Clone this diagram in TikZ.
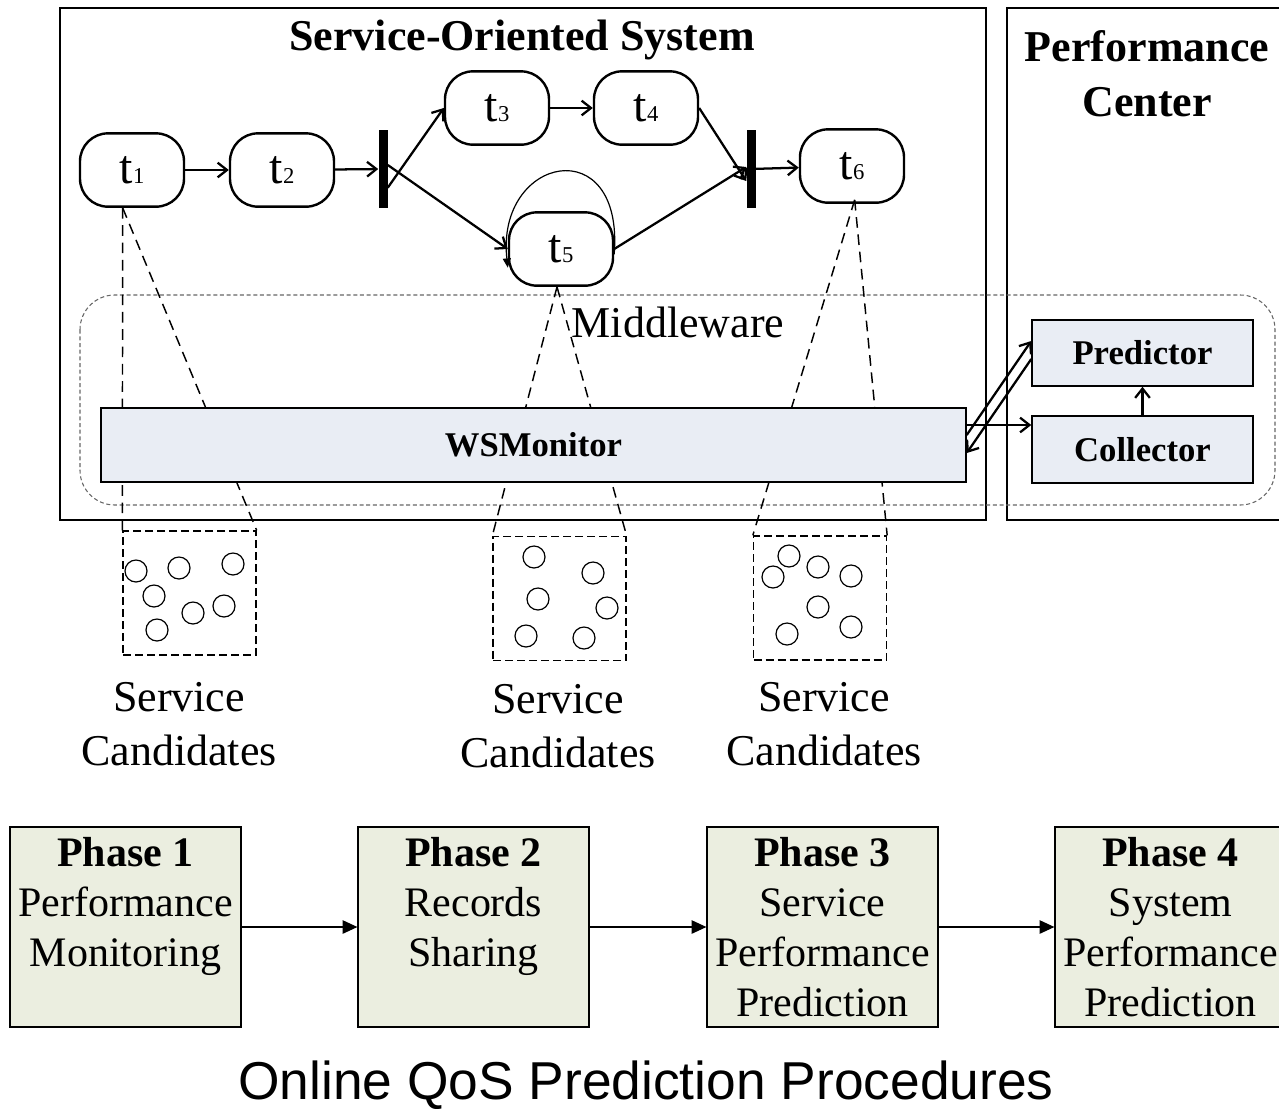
\documentclass[tikz,border=0pt]{standalone}
\usepackage{fontspec}
\setmainfont{Liberation Serif}
\newfontfamily\captionfont{Liberation Sans}
\usetikzlibrary{arrows.meta,positioning}

\definecolor{modfill}{RGB}{233,237,244}
\definecolor{phasefill}{RGB}{235,238,224}

\newcommand{\tname}[1]{t{\fontsize{17}{17}\selectfont #1}}

\tikzset{
  frame/.style={line width=1.4pt},
  mware/.style={draw=black!60, line width=0.8pt, dash pattern=on 3pt off 2pt, rounded corners=26pt},
  task/.style={draw, line width=1.8pt, rounded corners=21pt, minimum width=78pt, minimum height=55pt, inner sep=0pt, font=\fontsize{36}{36}\selectfont},
  bar/.style={fill=black, minimum width=6.75pt, minimum height=58.5pt, inner sep=0pt},
  flow/.style={-{Straight Barb[length=7pt,width=11pt]}, line width=1.7pt},
  selfloop/.style={-{Triangle[length=7pt,width=6pt]}, line width=0.9pt},
  cone/.style={line width=1.1pt, dash pattern=on 8pt off 5pt},
  module/.style={draw, fill=modfill, line width=1.1pt, inner sep=0pt, font=\fontsize{26}{26}\selectfont\bfseries},
  pool/.style={draw, line width=1pt, dash pattern=on 6pt off 3pt, minimum width=99.75pt, minimum height=93pt, inner sep=0pt},
  cand/.style={circle, draw, line width=0.9pt, minimum size=16.5pt, inner sep=0pt},
  bigfont/.style={font=\fontsize{33}{40}\selectfont, align=center, inner sep=0pt},
  phase/.style={draw, fill=phasefill, line width=0.9pt, minimum width=173.25pt, minimum height=150pt, inner sep=0pt, align=center, font=\fontsize{31.5}{37.5}\selectfont},
  phasearrow/.style={-{Triangle[length=11pt,width=10pt]}, line width=0.9pt}
}

\begin{document}
\begin{tikzpicture}[x=0.75pt,y=0.75pt,yscale=-1,xscale=1]
    \useasboundingbox (0,0) rectangle (1279,1108);
    \clip (0,0) rectangle (1279,1108);

    %Shape: Rectangle [service-oriented system]
    \draw [frame] (60,8) rectangle (986,520);
    %Shape: Rectangle [performance center]
    \draw [frame] (1007,8) rectangle (1300,520);
    %Shape: Rounded Rectangle [middleware]
    \draw [mware] (80,295) rectangle (1275,505);

    % Text Node
    \node [bigfont] (sostitle) at (522,40) {\textbf{Service-Oriented System}};
    % Text Node
    \node [bigfont, font=\fontsize{33}{41}\selectfont\bfseries] (pctitle) at (1147,74) {Performance\\Center};
    % Text Node
    \node [bigfont] (mwlabel) at (678,322) {Middleware};

    %Tasks
    \node [task] (t1) at (132,170) {\tname{1}};
    \node [task] (t2) at (282,170) {\tname{2}};
    \node [bar] (bar1) at (383,169) {};
    \node [task] (t3) at (497,108) {\tname{3}};
    \node [task] (t4) at (646,108) {\tname{4}};
    \node [task] (t5) at (561,249) {\tname{5}};
    \node [bar] (bar2) at (751,169) {};
    \node [task] (t6) at (852,166) {\tname{6}};

    %Flow arrows
    \draw [flow] (t1) -- (t2);
    \draw [flow] (t2) -- (bar1);
    \draw [flow] ([yshift=14pt]bar1.east) -- (t3.west);
    \draw [flow] ([yshift=-3pt]bar1.east) -- (t5.west);
    \draw [flow] (t3) -- (t4);
    \draw [flow] (t4.east) -- ([yshift=9pt]bar2.west);
    \draw [flow] (t5.east) -- ([yshift=-1.5pt]bar2.west);
    \draw [flow] (bar2) -- (t6);
    \draw [selfloop] ([yshift=4pt]t5.east) .. controls +(10,-125) and +(-12,-112) .. ([yshift=14pt]t5.west);

    %Service candidates
    \node [pool] (pool1) at (189.5,593) {};
    \node [pool] (pool2) at (559.5,598.5) {};
    \node [pool] (pool3) at (820,598) {};
    \foreach \x/\y [count=\i] in {136/571,179/568,233/564,154/596,193/613,224/606,157/630}
      \node [cand] (ca\i) at (\x,\y) {};
    \foreach \x/\y [count=\i] in {534/557,593/573,538/599,607/608,526/636,584/638}
      \node [cand] (cb\i) at (\x,\y) {};
    \foreach \x/\y [count=\i] in {789/556,773/577,818/567,851/576,818/607,787/634,851/627}
      \node [cand] (cc\i) at (\x,\y) {};

    % Text Node
    \node [bigfont] (lab1) at (179,724) {Service\\Candidates};
    % Text Node
    \node [bigfont] (lab2) at (558,726) {Service\\Candidates};
    % Text Node
    \node [bigfont] (lab3) at (824,724) {Service\\Candidates};

    %Dashed cones
    \draw [cone] ([xshift=-7pt]t1.south) -- (pool1.north west);
    \draw [cone] ([xshift=-7pt]t1.south) -- (pool1.north east);
    \draw [cone] ([xshift=-3pt]t5.south) -- (pool2.north west);
    \draw [cone] ([xshift=-3pt]t5.south) -- (pool2.north east);
    \draw [cone] ([xshift=2pt,yshift=-3pt]t6.south) -- (pool3.north west);
    \draw [cone] ([xshift=2pt,yshift=-3pt]t6.south) -- (pool3.north east);

    %Monitor and center modules
    \node [module, minimum width=648.75pt, minimum height=55.5pt] (wsm) at (533.5,445) {WSMonitor};
    \node [module, minimum width=165.75pt, minimum height=49.5pt] (pred) at (1142.5,353) {Predictor};
    \node [module, minimum width=165.75pt, minimum height=50pt] (coll) at (1142.5,449.5) {Collector};

    \coordinate (wsmout) at ([yshift=-15pt]wsm.east);
    \draw [flow] (coll) -- (pred);
    \draw [flow] (wsmout) -- (wsmout -| coll.west);
    \draw [flow] ([yshift=4.5pt]pred.west) -- ([yshift=6pt]wsm.east);
    \draw [flow] ([yshift=-7.5pt]wsm.east) -- ([yshift=-9pt]pred.west);

    %Phases
    \node [phase] (p1) at (125.5,927) {\textbf{Phase 1}\\Performance\\Monitoring\\\phantom{Prediction}};
    \node [phase] (p2) at (473.5,927) {\textbf{Phase 2}\\Records\\Sharing\\\phantom{Prediction}};
    \node [phase] (p3) at (822.5,927) {\textbf{Phase 3}\\Service\\Performance\\Prediction};
    \node [phase] (p4) at (1170.5,927) {\textbf{Phase 4}\\System\\Performance\\Prediction};
    \draw [phasearrow] (p1) -- (p2);
    \draw [phasearrow] (p2) -- (p3);
    \draw [phasearrow] (p3) -- (p4);

    % Text Node
    \node [inner sep=0pt, font=\captionfont\fontsize{40}{40}\selectfont] (caption) at (646,1085) {Online QoS Prediction Procedures};

\end{tikzpicture}
\end{document}
